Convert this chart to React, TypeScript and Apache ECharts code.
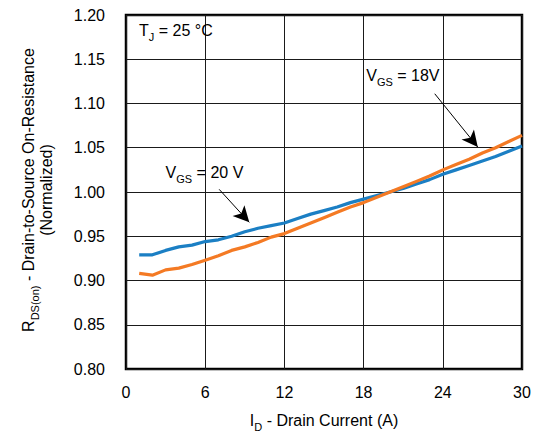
import React, { useEffect, useRef } from "react";
import * as echarts from "echarts";

// Drain current (A)
const currents = [1, 2, 3, 4, 5, 6, 7, 8, 9, 10, 11, 12, 13, 14, 15, 16, 17, 18, 19, 20, 21, 22, 23, 24, 25, 26, 27, 28, 29, 30];

// Normalized RDS(on) at VGS = 20 V
const rds20V = [0.929, 0.929, 0.934, 0.938, 0.940, 0.944, 0.946, 0.950, 0.955, 0.959, 0.962, 0.965, 0.970, 0.975, 0.979, 0.983, 0.988, 0.992, 0.996, 1.000, 1.004, 1.009, 1.014, 1.020, 1.025, 1.030, 1.035, 1.040, 1.046, 1.052];

// Normalized RDS(on) at VGS = 18 V
const rds18V = [0.908, 0.906, 0.912, 0.914, 0.918, 0.923, 0.928, 0.934, 0.938, 0.943, 0.949, 0.953, 0.959, 0.965, 0.971, 0.977, 0.983, 0.988, 0.994, 1.000, 1.006, 1.012, 1.018, 1.025, 1.031, 1.037, 1.044, 1.050, 1.057, 1.064];

const xTicks = { min: 0, max: 30, interval: 6 };
const yTicks = { min: 0.8, max: 1.2, interval: 0.05 };

// Callout arrows: [from, to] in data units
const arrow20V = [[7.06, 1.003], [9.34, 0.9657]];
const arrow18V = [[23.39, 1.111], [26.65, 1.0508]];
const label20V = [3.0, 1.0224];
const label18V = [18.2, 1.1317];

const FONT = "Liberation Sans, Arial, sans-serif";
const BLUE = "#1b7fc4";
const ORANGE = "#f47a24";

export default function App() {
  const ref = useRef<HTMLDivElement>(null);

  useEffect(() => {
    if (!ref.current) return;
    const chart = echarts.init(ref.current, null, { renderer: "svg" });

    const arrowLine = (pts: number[][], name: string) => ({
      silent: true,
      symbol: ["none", "arrow"],
      symbolSize: [12, 16],
      label: { show: false },
      lineStyle: { color: "#000", width: 1, type: "solid" },
      emphasis: { disabled: true },
      data: [[{ coord: pts[0], name }, { coord: pts[1] }]],
    });

    const subRich = {
      a: { fontSize: 16, fontFamily: FONT, color: "#000", lineHeight: 18 },
      s: { fontSize: 11, fontFamily: FONT, color: "#000", verticalAlign: "bottom", lineHeight: 14, padding: [0, 0, -3, 0] },
    };

    chart.setOption({
      animation: false,
      grid: { left: 126, right: 13, top: 15, bottom: 65, show: true, borderColor: "#000", borderWidth: 2.5, backgroundColor: "transparent" },
      xAxis: {
        type: "value",
        ...xTicks,
        axisLine: { show: false },
        axisTick: { show: false },
        splitLine: { show: true, lineStyle: { color: "#1a1a1a", width: 1 } },
        axisLabel: { fontSize: 16, fontFamily: FONT, color: "#000", margin: 15 },
      },
      yAxis: {
        type: "value",
        ...yTicks,
        axisLine: { show: false },
        axisTick: { show: false },
        splitLine: { show: true, lineStyle: { color: "#1a1a1a", width: 1 } },
        axisLabel: { fontSize: 16, fontFamily: FONT, color: "#000", margin: 21, formatter: (v: number) => v.toFixed(2) },
      },
      series: [
        {
          name: "VGS = 20 V",
          type: "line",
          data: currents.map((x, i) => [x, rds20V[i]]),
          symbol: "none",
          lineStyle: { color: BLUE, width: 3.2 },
          z: 3,
          markLine: arrowLine(arrow20V, "a20"),
        },
        {
          name: "VGS = 18V",
          type: "line",
          data: currents.map((x, i) => [x, rds18V[i]]),
          symbol: "none",
          lineStyle: { color: ORANGE, width: 3.2 },
          z: 4,
          markLine: arrowLine(arrow18V, "a18"),
        },
      ],
    });

    const p20 = chart.convertToPixel({ gridIndex: 0 }, label20V);
    const p18 = chart.convertToPixel({ gridIndex: 0 }, label18V);

    chart.setOption({
      graphic: [
        {
          type: "text",
          left: 139,
          top: 22,
          style: { rich: subRich, text: "{a|T}{s|J}{a| = 25 °C}" },
        },
        {
          type: "text",
          x: p20[0],
          y: p20[1],
          style: { rich: subRich, text: "{a|V}{s|GS}{a| = 20 V}", verticalAlign: "middle" },
        },
        {
          type: "text",
          x: p18[0],
          y: p18[1],
          style: { rich: subRich, text: "{a|V}{s|GS}{a| = 18V}", verticalAlign: "middle" },
        },
        {
          type: "text",
          x: 324,
          y: 420,
          style: { rich: subRich, text: "{a|I}{s|D}{a| - Drain Current (A)}", align: "center", verticalAlign: "middle" },
        },
        {
          type: "text",
          x: 37,
          y: 190,
          rotation: Math.PI / 2,
          style: {
            rich: { ...subRich, b: { fontSize: 16, fontFamily: FONT, color: "#000", lineHeight: 17 } },
            text: "{a|R}{s|DS(on)}{a| - Drain-to-Source On-Resistance}\n{b|(Normalized)}",
            align: "center",
            verticalAlign: "middle",
          },
        },
      ],
    });

    return () => chart.dispose();
  }, []);

  return <div ref={ref} style={{ width: 535, height: 434, position: "absolute", left: 0, top: 0 }} />;
}
